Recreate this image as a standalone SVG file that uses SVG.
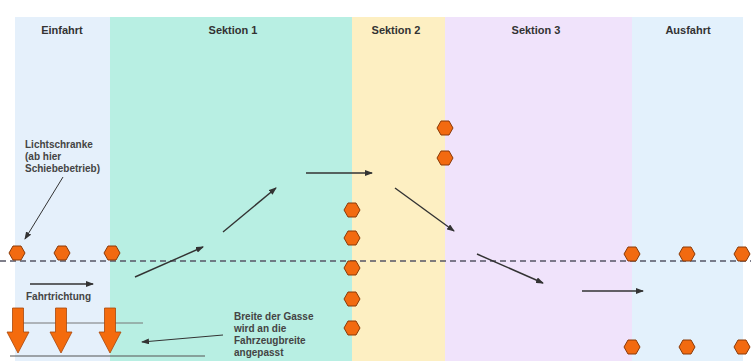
<svg xmlns="http://www.w3.org/2000/svg" width="751" height="361" viewBox="0 0 751 361">
<style>
.hdr{font-family:"Liberation Sans",Arial,sans-serif;font-size:11px;font-weight:bold;fill:#333;text-anchor:middle}
.lbl{font-family:"Liberation Sans",Arial,sans-serif;font-size:10px;font-weight:bold;fill:#444}
.hex{fill:#f26a10;stroke:#8a3a08;stroke-width:1}
.arr{stroke:#333;stroke-width:1.4;fill:none;marker-end:url(#ah)}
.thin{stroke:#333;stroke-width:1;fill:none;marker-end:url(#ah)}
.down{fill:#f46b0d;stroke:#a8470b;stroke-width:0.8}
</style>
<defs>
<marker id="ah" markerWidth="8" markerHeight="6" refX="7" refY="3" orient="auto" markerUnits="userSpaceOnUse">
<path d="M0,0 L8,3 L0,6 Z" fill="#333"/>
</marker>
<polygon id="hx" points="-8,0 -4,-7 4,-7 8,0 4,7 -4,7"/>
<path id="dn" d="M-5.5,0 H5.5 V24 H11 L0,45 L-11,24 H-5.5 Z"/>
</defs>
<rect width="751" height="361" fill="#fff"/>
<g id="bands">
<rect x="15" y="17" width="95" height="344" fill="#e5f0fb"/>
<rect x="110" y="17" width="242" height="344" fill="#b8efe3"/>
<rect x="352" y="17" width="93" height="344" fill="#fdefc2"/>
<rect x="445" y="17" width="187" height="344" fill="#f0e3fb"/>
<rect x="632" y="17" width="111" height="344" fill="#e3f1fc"/>
</g>
<g id="headers">
<text class="hdr" x="62" y="34">Einfahrt</text>
<text class="hdr" x="233" y="34">Sektion 1</text>
<text class="hdr" x="396" y="34">Sektion 2</text>
<text class="hdr" x="536" y="34">Sektion 3</text>
<text class="hdr" x="688" y="34">Ausfahrt</text>
</g>
<g id="lane-lines">
<line x1="0" y1="261" x2="751" y2="261" stroke="#556" stroke-width="1.5" stroke-dasharray="6,4"/>
<line x1="13" y1="323" x2="143" y2="323" stroke="#777" stroke-width="1"/>
<line x1="10" y1="356" x2="205" y2="356" stroke="#555" stroke-width="1.2"/>
</g>
<g id="connectors">
<line class="arr" x1="135" y1="277" x2="203" y2="247"/>
<line class="arr" x1="223" y1="232" x2="276" y2="188"/>
<line class="arr" x1="306" y1="173" x2="372" y2="173"/>
<line class="arr" x1="395" y1="188" x2="454" y2="231"/>
<line class="arr" x1="477" y1="254" x2="543" y2="283"/>
<line class="arr" x1="582" y1="291" x2="643" y2="291"/>
<line class="arr" x1="30" y1="284" x2="93" y2="284"/>
<line class="thin" x1="63" y1="177" x2="25" y2="239"/>
<line class="thin" x1="223" y1="335" x2="142" y2="342"/>
</g>
<g id="hexagons">
<use href="#hx" class="hex" x="17" y="253"/>
<use href="#hx" class="hex" x="62" y="253"/>
<use href="#hx" class="hex" x="112" y="253"/>
<use href="#hx" class="hex" x="632" y="254"/>
<use href="#hx" class="hex" x="687" y="254"/>
<use href="#hx" class="hex" x="742" y="254"/>
<use href="#hx" class="hex" x="632" y="347"/>
<use href="#hx" class="hex" x="687" y="347"/>
<use href="#hx" class="hex" x="742" y="347"/>
<use href="#hx" class="hex" x="352" y="210"/>
<use href="#hx" class="hex" x="352" y="238"/>
<use href="#hx" class="hex" x="352" y="268"/>
<use href="#hx" class="hex" x="352" y="299"/>
<use href="#hx" class="hex" x="352" y="328"/>
<use href="#hx" class="hex" x="445" y="128"/>
<use href="#hx" class="hex" x="445" y="158"/>
</g>
<g id="down-arrows">
<use href="#dn" class="down" x="18" y="308"/>
<use href="#dn" class="down" x="61" y="308"/>
<use href="#dn" class="down" x="110" y="308"/>
</g>
<g id="labels">
<text class="lbl" x="25" y="148">Lichtschranke</text>
<text class="lbl" x="25" y="160">(ab hier</text>
<text class="lbl" x="25" y="172">Schiebebetrieb)</text>
<text class="lbl" x="26" y="300">Fahrtrichtung</text>
<text class="lbl" x="234" y="320">Breite der Gasse</text>
<text class="lbl" x="234" y="332">wird an die</text>
<text class="lbl" x="234" y="344">Fahrzeugbreite</text>
<text class="lbl" x="234" y="356">angepasst</text>
</g>
</svg>
